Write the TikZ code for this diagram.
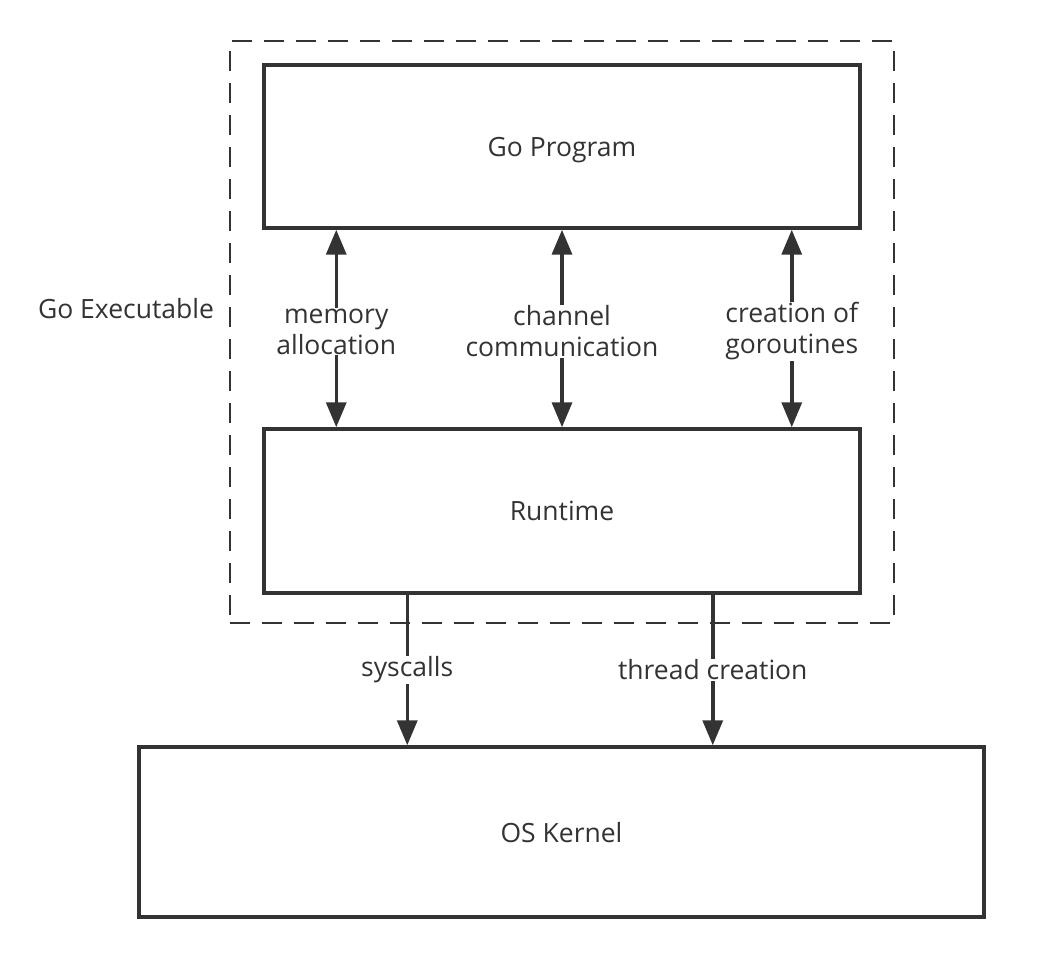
\documentclass[tikz,border=0pt]{standalone}
\usepackage{fontspec}
\setmainfont{Open Sans}
\usepackage{tikz}
\usetikzlibrary{arrows.meta}
\usepackage{xcolor}
\definecolor{ink}{HTML}{333333}

\begin{document}
\begin{tikzpicture}[x=1pt,y=-1pt,
		box/.style={draw=ink,line width=3.5pt,minimum width=596pt,minimum height=163pt,inner sep=0pt,text depth=0pt,text=ink},
		call/.style={draw=ink,line width=3.5pt,-{Triangle[length=25pt,width=20pt]}},
		twoway/.style={draw=ink,line width=3.5pt,{Triangle[length=25pt,width=20pt]}-{Triangle[length=25pt,width=20pt]}},
		tag/.style={fill=white,inner sep=1pt,align=center,text=ink},
		font=\fontsize{26.5}{31}\selectfont]
		\useasboundingbox (0,0) rectangle (1046,957);
		% DASHED FRAME
		\node [draw=ink,line width=2pt,dash pattern=on 20pt off 12pt,minimum width=664pt,minimum height=582pt] (exe) at (562,332) {};
		\node [text=ink] (exelabel) at (126,309) {Go Executable};
		% BOXES
		\node [box] (prog) at (562,146.5) {Go Program};
		\node [box,minimum height=164pt] (rt) at (562,511) {Runtime};
		\node [box,minimum width=845pt,minimum height=170pt] (kernel) at (561.5,832) {OS Kernel};
		% PROGRAM <-> RUNTIME
		\draw [twoway] ([xshift=74pt]prog.south west) -- node [tag,yshift=-3pt] {memory\\allocation} ([xshift=74pt]rt.north west);
		\draw [twoway] (prog.south) -- node [tag,yshift=-3pt] {channel\\communication} (rt.north);
		\draw [twoway] ([xshift=-70pt]prog.south east) -- node [tag,yshift=-3pt] {creation of\\goroutines} ([xshift=-70pt]rt.north east);
		% RUNTIME -> KERNEL
		\draw [call] ([xshift=145pt]rt.south west) -- node [tag] {syscalls} ([xshift=145pt]rt.south west |- kernel.north);
		\draw [call] ([xshift=-149pt]rt.south east) -- node [tag] {thread creation} ([xshift=-149pt]rt.south east |- kernel.north);
\end{tikzpicture}
\end{document}
